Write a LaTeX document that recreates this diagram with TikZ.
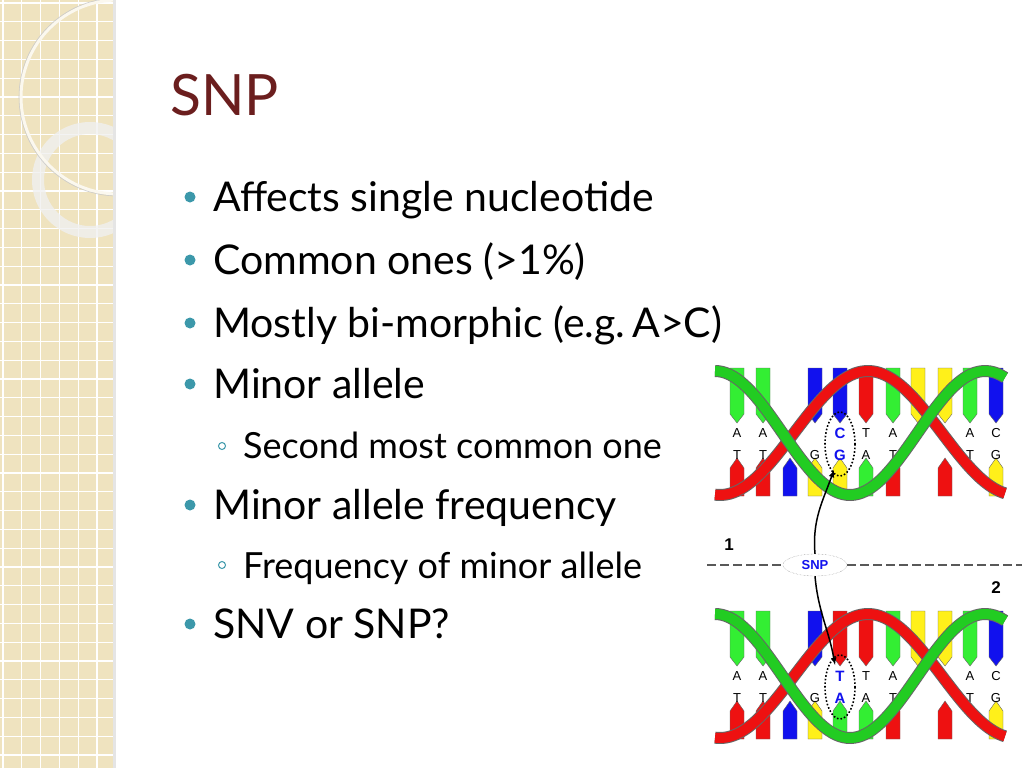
\documentclass[tikz,border=0pt]{standalone}
\usepackage{fontspec}
\usetikzlibrary{shapes.geometric}
\setmainfont{Lato}
\newfontfamily\arialf{Liberation Sans}
\definecolor{strip}{HTML}{EFE3BF}
\definecolor{titlec}{HTML}{6B1E1E}
\definecolor{bulc}{HTML}{3C98AA}
\definecolor{dgreen}{HTML}{22CC22}
\definecolor{lgreen}{HTML}{33EE33}
\definecolor{dred}{HTML}{EE1111}
\definecolor{dblue}{HTML}{1111EE}
\definecolor{dyel}{HTML}{FFF01A}
\tikzset{
 bul/.style={anchor=base west,font=\fontsize{41}{41}\selectfont,inner sep=0},
 sub/.style={anchor=base west,font=\fontsize{36}{36}\selectfont,inner sep=0},
 dot/.style={circle,fill=bulc,inner sep=0,minimum size=11pt},
 sdot/.style={circle,draw=bulc,line width=1pt,inner sep=0,minimum size=7pt},
 lt/.style={font=\arialf\fontsize{13}{13}\selectfont,inner sep=0},
 ltb/.style={font=\arialf\bfseries\fontsize{15}{15}\selectfont,text=dblue,inner sep=0},
}
\newcommand\topbar[3]{\fill[#3,draw=black!60,line width=0.4pt] (#1-7,#2)--(#1+7,#2)--(#1+7,#2+46)--(#1,#2+55)--(#1-7,#2+46)--cycle;}
\newcommand\botbar[3]{\fill[#3,draw=black!60,line width=0.4pt] (#1-7,#2+128)--(#1-7,#2+100)--(#1,#2+90)--(#1+7,#2+100)--(#1+7,#2+128)--cycle;}
\newcommand\dnahelix[4]{%
 \begin{scope}[yshift=-#1]
 \topbar{737}{368}{lgreen}\topbar{763}{368}{lgreen}\topbar{840}{368}{#2}\topbar{866}{368}{dred}
 \topbar{893}{368}{lgreen}\topbar{918}{368}{dyel}\topbar{945}{368}{dyel}\topbar{970}{368}{lgreen}\topbar{996}{368}{dblue}\topbar{815}{368}{dblue}
 \botbar{737}{368}{dred}\botbar{763}{368}{dred}\botbar{790}{368}{dblue}\botbar{815}{368}{dyel}\botbar{840}{368}{#3}
 \botbar{866}{368}{lgreen}\botbar{893}{368}{dred}\botbar{945}{368}{dred}\botbar{996}{368}{dyel}
 \foreach \x/\a in {737/A,763/A,866/T,893/A,970/A,996/C}{\node[lt] at (\x,433) {\a};}
 \foreach \x/\a in {737/T,763/T,815/G,866/A,893/T,970/T,996/G}{\node[lt] at (\x,455) {\a};}
 #4
 \draw[black!60,line width=12pt] plot[domain=715:1005,samples=80,smooth] (\x,{433+62*cos((\x-720)/148*180)});
 \draw[dred,line width=10pt] plot[domain=715:1005,samples=80,smooth] (\x,{433+62*cos((\x-720)/148*180)});
 \draw[black!60,line width=12pt] plot[domain=715:1005,samples=80,smooth] (\x,{433-62*cos((\x-715)/135*180)});
 \draw[dgreen,line width=10pt] plot[domain=715:1005,samples=80,smooth] (\x,{433-62*cos((\x-715)/135*180)});
 \draw[black,line width=1.6pt,dotted] (840,444) ellipse (15 and 32);
 \end{scope}}
\begin{document}
\begin{tikzpicture}[x=1pt,y=-1pt]
\useasboundingbox (0,0) rectangle (1024,768);
\fill[white] (0,0) rectangle (1024,768);
% left strip
\begin{scope}
\clip (0,0) rectangle (113,768);
\fill[strip] (0,0) rectangle (113,768);
\foreach \i in {0,...,6}{\draw[white,line width=1.2pt] (\i*18.8+3,0)--(\i*18.8+3,768);}
\foreach \j in {0,...,40}{\draw[white,line width=1.2pt] (0,\j*18.8+3)--(113,\j*18.8+3);}
\draw[white!85!black!40,line width=12pt,opacity=0.8] (90,180) circle (52);
\draw[white!75!strip,line width=3pt] (118,97) circle (97);
\draw[black!20,line width=0.6pt] (118,97) circle (99);
\end{scope}
\fill[black!10] (113,0) rectangle (116,768);
% title
\node[anchor=base west,inner sep=0,text=titlec,font=\fontsize{57}{57}\selectfont] (title) at (170,115) {SNP};
% bullets
\foreach \y/\t [count=\k] in {211/Affects single nucleotide,274/Common ones (>1\%),337/{Mostly bi-morphic (e.g.\,A>C)},398/Minor allele,519/Minor allele frequency,638/SNV or SNP?}{
 \node[dot] (d\k) at (190,\y-14) {};
 \node[bul] (b\k) at (213,\y) {\t};}
\node[sdot] (s1) at (222,446) {};
\node[sub] (t1) at (243,458) {Second most common one};
\node[sdot] (s2) at (222,565) {};
\node[sub] (t2) at (243,578) {Frequency of minor allele};
% DNA
\dnahelix{0}{dblue}{dyel}{\node[ltb] (c1) at (840,433) {C};\node[ltb] (g1) at (840,455) {G};}
\dnahelix{243}{dred}{lgreen}{\node[ltb] (t2a) at (840,433) {T};\node[ltb] (a2) at (840,455) {A};}
\draw[black!65,line width=2.5pt,dash pattern=on 9pt off 4pt] (707,565)--(783,565) (847,565)--(1022,565);
\node[ellipse,draw=black!50,densely dotted,fill=white,minimum width=64pt,minimum height=22pt,inner sep=0,font=\arialf\bfseries\fontsize{13}{13}\selectfont,text=dblue] (snp) at (815,565) {SNP};
\node[font=\arialf\bfseries\fontsize{17}{17}\selectfont] (n1) at (729,545) {1};
\node[font=\arialf\bfseries\fontsize{17}{17}\selectfont] (n2) at (996,588) {2};
\coordinate (tgt1) at (834,470);
\coordinate (tgt2) at (835,665);
\draw[-latex,line width=1.5pt] (snp.north) to[out=95,in=250] (tgt1);
\draw[-latex,line width=1.5pt] (snp.south) to[out=-85,in=100] (tgt2);
\end{tikzpicture}
\end{document}
